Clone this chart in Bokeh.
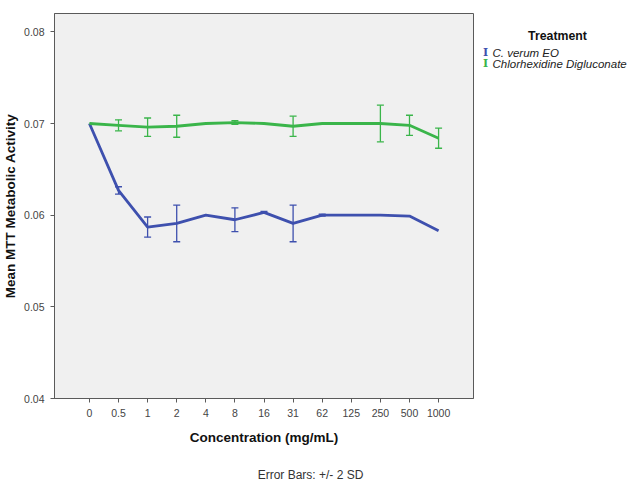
from bokeh.plotting import figure
from bokeh.models import ColumnDataSource, Whisker, TeeHead, FixedTicker, Range1d
from bokeh.layouts import row, column
from bokeh.core.properties import value
from bokeh.embed import file_html
from bokeh.resources import INLINE

concentrations = ["0", "0.5", "1", "2", "4", "8", "16", "31", "62", "125", "250", "500", "1000"]
verum_mean = [0.0700, 0.0627, 0.0587, 0.0591, 0.0600, 0.0595, 0.0603, 0.0591, 0.0600, 0.0600, 0.0600, 0.0599, 0.0583]
verum_err = [0.0, 0.0004, 0.0011, 0.0020, 0.0, 0.0013, 0.0001, 0.0020, 0.0001, 0.0, 0.0, 0.0, 0.0]
chx_mean = [0.0700, 0.0698, 0.0696, 0.0697, 0.0700, 0.0701, 0.0700, 0.0697, 0.0700, 0.0700, 0.0700, 0.0698, 0.0684]
chx_err = [0.0, 0.0006, 0.0010, 0.0012, 0.0, 0.0002, 0.0, 0.0011, 0.0, 0.0, 0.0020, 0.0011, 0.0011]
y_ticks = [0.04, 0.05, 0.06, 0.07, 0.08]
series_names = ["C. verum EO", "Chlorhexidine Digluconate"]
legend_title = "Treatment"
footer_text = "Error Bars: +/- 2 SD"

BLUE = "#3E50AE"
GREEN = "#3AB54A"
FONT = "Liberation Sans"
W_MAIN, W_LEG = 475, 160
H_MAIN, H_FOOT = 452, 32
TOP, BOTTOM = 13, 398

xs = list(range(len(concentrations)))

p = figure(width=W_MAIN, height=H_MAIN, output_backend="svg", toolbar_location=None,
           x_range=Range1d(-1.2, 13.2), y_range=Range1d(0.04, 0.082),
           min_border_left=53, min_border_top=TOP, min_border_right=2,
           min_border_bottom=H_MAIN - BOTTOM)
p.background_fill_color = "#F0F0F0"
p.border_fill_color = "white"
p.outline_line_color = "#5a5a5a"
p.outline_line_width = 1
p.grid.visible = False

for mean, err, color in [(verum_mean, verum_err, BLUE), (chx_mean, chx_err, GREEN)]:
    p.line(xs, mean, line_color=color, line_width=2.8)
    ex = [x for x, e in zip(xs, err) if e > 0]
    lo = [m - e for m, e in zip(mean, err) if e > 0]
    hi = [m + e for m, e in zip(mean, err) if e > 0]
    src = ColumnDataSource(dict(x=ex, lower=lo, upper=hi))
    w = Whisker(source=src, base="x", lower="lower", upper="upper", dimension="height",
                line_color=color, line_width=1.3,
                upper_head=TeeHead(size=7, line_color=color, line_width=1.3),
                lower_head=TeeHead(size=7, line_color=color, line_width=1.3))
    p.add_layout(w)

p.xaxis.ticker = FixedTicker(ticks=xs)
p.xaxis.major_label_overrides = {i: c for i, c in enumerate(concentrations)}
p.yaxis.ticker = FixedTicker(ticks=y_ticks)
p.yaxis.major_label_overrides = {t: f"{t:.2f}" for t in y_ticks}
for ax in (p.xaxis, p.yaxis):
    ax.minor_tick_line_color = None
    ax.major_tick_in = 0
    ax.major_tick_out = 4
    ax.major_tick_line_color = "#5a5a5a"
    ax.axis_line_color = "#5a5a5a"
    ax.major_label_text_font = FONT
    ax.major_label_text_font_size = "10.5px"
    ax.major_label_text_color = "#444444"
    ax.axis_label_text_font = FONT
    ax.axis_label_text_font_style = "bold"
    ax.axis_label_text_font_size = "13.5px"
    ax.axis_label_text_color = "#111111"
p.xaxis.axis_label = "Concentration (mg/mL)"
p.yaxis.axis_label = "Mean MTT Metabolic Activity"
p.xaxis.major_label_standoff = 6
p.xaxis.axis_label_standoff = 10
p.yaxis.major_label_standoff = 6
p.yaxis.axis_label_standoff = 3

def blank(fig):
    fig.axis.visible = False
    fig.grid.visible = False
    fig.outline_line_color = None
    fig.background_fill_color = "white"
    fig.border_fill_color = "white"

# legend panel (coordinates are page pixels)
leg = figure(width=W_LEG, height=H_MAIN, output_backend="svg", toolbar_location=None,
             x_range=Range1d(W_MAIN, W_MAIN + W_LEG), y_range=Range1d(BOTTOM, TOP),
             min_border_left=0, min_border_right=0, min_border_top=TOP,
             min_border_bottom=H_MAIN - BOTTOM)
blank(leg)
leg.text(x=[557], y=[35], text=[legend_title], text_font=value(FONT), text_font_style="bold",
         text_font_size="12.3px", text_align="center", text_baseline="middle", text_color="#111111")
icon_y = [52, 63]
leg.text(x=[485] * len(series_names), y=icon_y, text=["I"] * len(series_names),
         text_font=value("DejaVu Serif"), text_font_style="bold", text_font_size="11px",
         text_color=[BLUE, GREEN], text_align="center", text_baseline="middle")
leg.text(x=[492] * len(series_names), y=icon_y, text=series_names, text_font=value(FONT),
         text_font_style="italic", text_font_size="11.5px", text_align="left",
         text_baseline="middle", text_color="#222222")

# footer panel
foot = figure(width=W_MAIN + W_LEG, height=H_FOOT, output_backend="svg", toolbar_location=None,
              x_range=Range1d(0, W_MAIN + W_LEG), y_range=Range1d(H_MAIN + H_FOOT, H_MAIN),
              min_border=0)
blank(foot)
foot.text(x=[310], y=[474], text=[footer_text], text_font=value(FONT), text_font_size="12px",
          text_align="center", text_baseline="middle", text_color="#333333")

layout = column(row(p, leg), foot)
open("out.html", "w").write(file_html(layout, INLINE))
